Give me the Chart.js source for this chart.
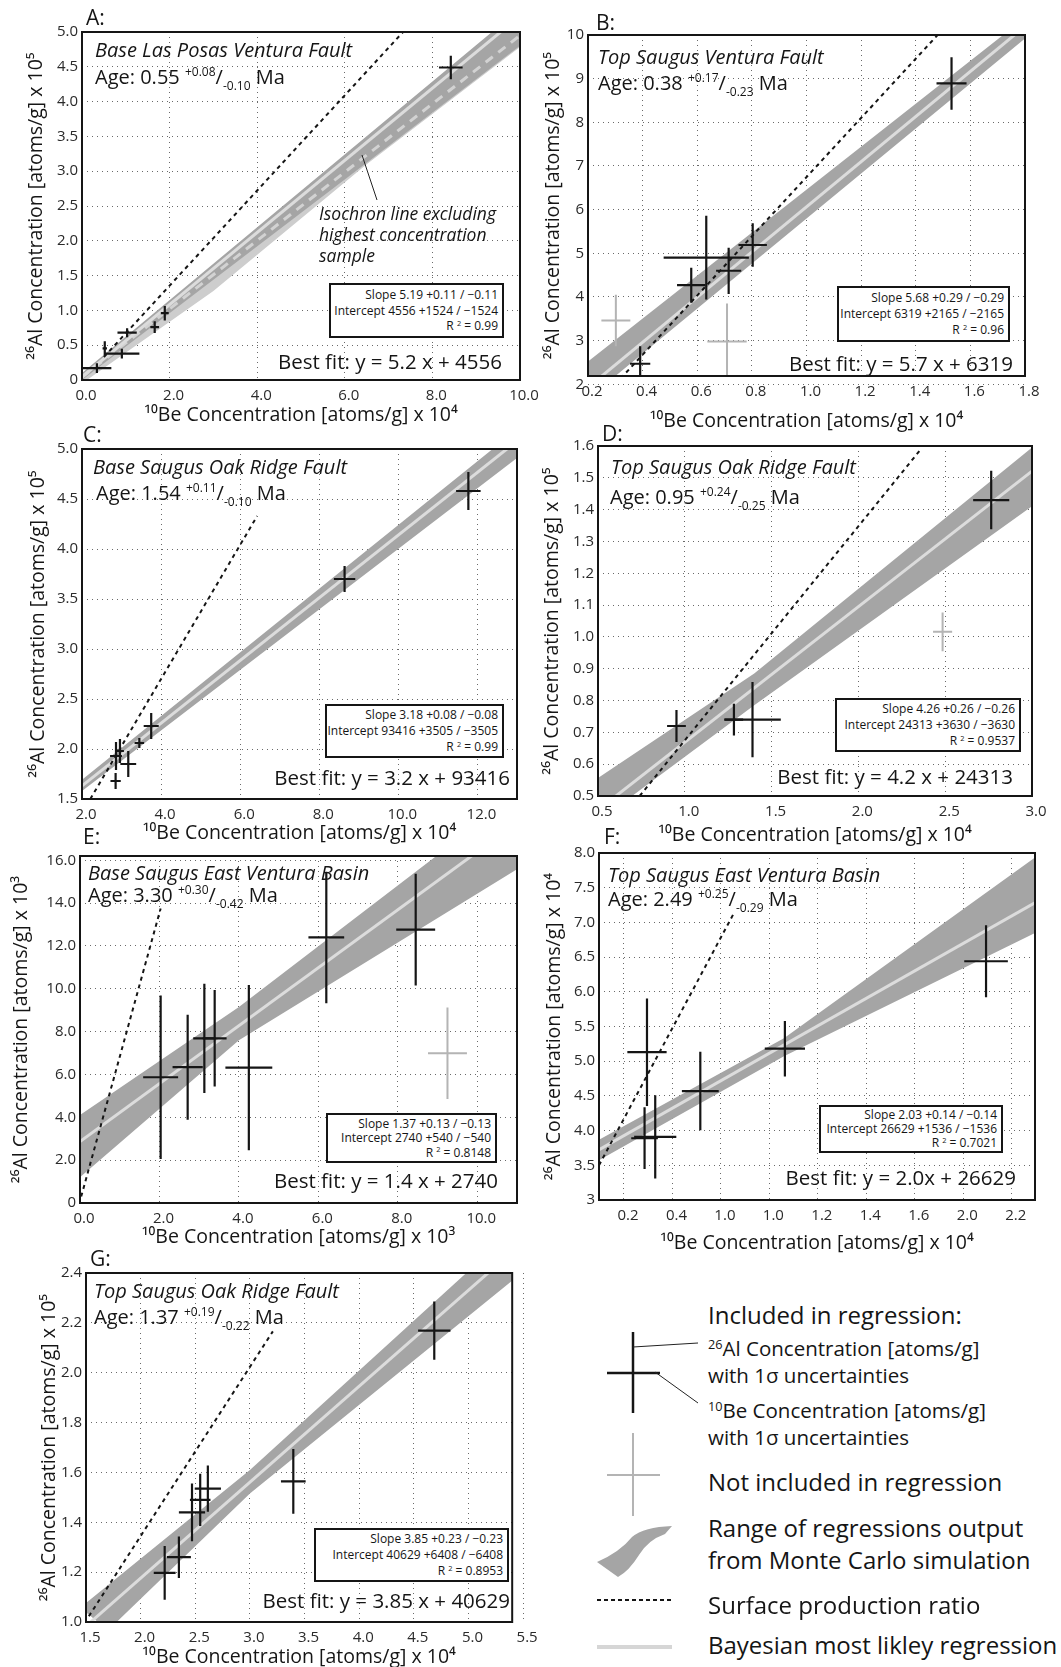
<!DOCTYPE html>
<html>
<head>
<meta charset="utf-8">
<title>26Al / 10Be isochron plots</title>
<script src="https://cdn.jsdelivr.net/npm/chart.js@4.4.1/dist/chart.umd.min.js"></script>
<style>
  html, body { margin: 0; padding: 0; background: #fff; }
  #page { position: relative; width: 1061px; height: 1667px; overflow: hidden; background: #fff;
          font-family: "Open Sans", "Noto Sans", "DejaVu Sans", sans-serif; color: #151515; }
  #page canvas { position: absolute; z-index: 1; }
  .t { position: absolute; z-index: 2; white-space: nowrap; line-height: 1; transform: translateY(-50%); }
  .it { font-style: italic; }
  .sup { font-size: 12px; position: relative; top: -8px; }
  .sub { font-size: 12px; position: relative; top: 6px; }
  .ssup { font-size: 0.62em; position: relative; top: -0.55em; }
  .box { position: absolute; z-index: 2; background: #fff; border: 2px solid #151515; box-sizing: border-box; }
  #marks { position: absolute; left: 0; top: 0; z-index: 3; }
</style>
</head>
<body>
<div id="page"></div>
<script>
// ---------------------------------------------------------------------
//  Data (x = 10Be, y = 26Al, in each panel's axis units)
// ---------------------------------------------------------------------

// A: Base Las Posas Ventura Fault
const A_be      = [0.34, 0.52, 0.91, 1.03, 1.66, 1.89, 8.42];
const A_al      = [0.17, 0.455, 0.38, 0.68, 0.76, 0.96, 4.49];
const A_beErr   = [0.33, 0.05, 0.40, 0.22, 0.10, 0.09, 0.27];
const A_alErr   = [0.07, 0.10, 0.07, 0.065, 0.085, 0.105, 0.17];
const A_band    = [[0, 0.1], [9.55, 5.1], [10.2, 5.1], [10.2, 4.9], [0, 0]];
const A_band2   = [[0, 0.04], [10.2, 5.05], [10.2, 4.88], [6.5, 3.1], [3, 1.28], [0, -0.05]];
const A_fit     = [[0, 0.046], [9.75, 5.1]];
const A_fit2    = [[0, 0.04], [10, 4.95]];
const A_ratio   = [[0.5, 0.33], [7.33, 5.0]];
const A_xTicks  = ['0.0', '2.0', '4.0', '6.0', '8.0', '10.0'];
const A_yTicks  = ['0', '0.5', '1.0', '1.5', '2.0', '2.5', '3.0', '3.5', '4.0', '4.5', '5.0'];

// B: Top Saugus Ventura Fault
const B_be      = [0.391, 0.578, 0.633, 0.715, 0.803, 1.531];
const B_al      = [2.47, 4.27, 4.90, 4.60, 5.19, 8.89];
const B_beErr   = [0.037, 0.052, 0.156, 0.046, 0.052, 0.055];
const B_alErr   = [0.40, 0.40, 0.96, 0.53, 0.50, 0.60];
const B_exBe    = [0.302, 0.709];
const B_exAl    = [3.46, 2.98];
const B_exBeErr = [0.053, 0.072];
const B_exAlErr = [0.59, 0.87];
const B_band    = [[0.1, 2.03], [1.85, 10.64], [1.85, 10.18], [0.25, 1.93]];
const B_fit     = [[0.21, 1.98], [1.8, 10.2]];
const B_ratio   = [[0.3, 2.0], [1.48, 10.0]];
const B_xTicks  = ['0.2', '0.4', '0.6', '0.8', '1.0', '1.2', '1.4', '1.6', '1.8'];
const B_yTicks  = ['2', '3', '4', '5', '6', '7', '8', '9', '10'];

// C: Base Saugus Oak Ridge Fault
const C_be      = [2.85, 2.86, 2.96, 3.17, 3.45, 3.75, 8.64, 11.77];
const C_al      = [1.68, 1.93, 1.98, 1.85, 2.06, 2.23, 3.70, 4.58];
const C_beErr   = [0.13, 0.15, 0.10, 0.20, 0.12, 0.19, 0.27, 0.31];
const C_alErr   = [0.08, 0.14, 0.12, 0.13, 0.05, 0.13, 0.13, 0.19];
const C_band    = [[1.9, 1.66], [13.2, 5.26], [13.2, 4.97], [1.9, 1.55]];
const C_fit     = [[1.9, 1.60], [13.0, 5.08]];
const C_ratio   = [[2.21, 1.5], [6.43, 4.33]];
const C_xTicks  = ['2.0', '4.0', '6.0', '8.0', '10.0', '12.0'];
const C_yTicks  = ['1.5', '2.0', '2.5', '3.0', '3.5', '4.0', '4.5', '5.0'];

// D: Top Saugus Oak Ridge Fault
const D_be      = [0.952, 1.283, 1.39, 2.765];
const D_al      = [0.72, 0.74, 0.74, 1.43];
const D_beErr   = [0.054, 0.053, 0.163, 0.104];
const D_alErr   = [0.05, 0.05, 0.118, 0.092];
const D_exBe    = [2.485];
const D_exAl    = [1.016];
const D_exBeErr = [0.055];
const D_exAlErr = [0.061];
const D_band    = [[0.4, 0.52], [1.4, 0.885], [3.1, 1.64], [3.1, 1.45], [1.4, 0.785], [0.4, 0.38]];
const D_fit     = [[0.5, 0.456], [3.0, 1.521]];
const D_ratio   = [[0.74, 0.5], [2.36, 1.59]];
const D_xTicks  = ['0.5', '1.0', '1.5', '2.0', '2.5', '3.0'];
const D_yTicks  = ['0.5', '0.6', '0.7', '0.8', '0.9', '1.0', '1.1', '1.2', '1.3', '1.4', '1.5', '1.6'];

// E: Base Saugus East Ventura Basin
const E_be      = [2.03, 2.71, 3.13, 3.39, 4.25, 6.20, 8.45];
const E_al      = [5.87, 6.34, 7.69, 7.69, 6.32, 12.40, 12.76];
const E_beErr   = [0.44, 0.38, 0.28, 0.30, 0.59, 0.45, 0.49];
const E_alErr   = [3.82, 2.45, 2.55, 2.25, 3.86, 3.07, 2.61];
const E_exBe    = [9.25];
const E_exAl    = [6.99];
const E_exBeErr = [0.49];
const E_exAlErr = [2.14];
const E_band    = [[-0.1, 3.98], [4, 9.15], [9.3, 16.67], [11.1, 16.67], [11.1, 15.7], [4, 7.6], [-0.1, 1.04]];
const E_fit     = [[0, 2.87], [10.1, 16.53]];
const E_ratio   = [[0.03, 0.3], [2.03, 13.75]];
const E_xTicks  = ['0.0', '2.0', '4.0', '6.0', '8.0', '10.0'];
const E_yTicks  = ['0', '2.0', '4.0', '6.0', '8.0', '10.0', '12.0', '14.0', '16.0'];

// F: Top Saugus East Ventura Basin (tick labels printed as in the original)
const F_be      = [0.285, 0.295, 0.329, 0.515, 0.864, 1.694];
const F_al      = [3.89, 5.13, 3.91, 4.57, 5.18, 6.44];
const F_beErr   = [0.055, 0.081, 0.087, 0.076, 0.083, 0.09];
const F_alErr   = [0.445, 0.774, 0.60, 0.565, 0.40, 0.52];
const F_band    = [[0.05, 3.78], [0.86, 5.33], [1.95, 8.07], [1.95, 6.94], [0.86, 5.07], [0.05, 3.48]];
const F_fit     = [[0.05, 3.63], [1.95, 7.39]];
const F_ratio   = [[0.097, 3.5], [0.65, 7.11]];
const F_xTickAt = [0.2, 0.4, 0.6, 0.8, 1.0, 1.2, 1.4, 1.6, 1.8];
const F_xTicks  = ['0.2', '0.4', '1.0', '1.0', '1.2', '1.4', '1.6', '2.0', '2.2'];
const F_yTicks  = ['3', '3.5', '4.0', '4.5', '5.0', '5.5', '6.0', '6.5', '7.0', '7.5', '8.0'];

// G: Top Saugus Oak Ridge Fault
const G_be      = [2.22, 2.35, 2.47, 2.545, 2.615, 3.397, 4.687];
const G_al      = [1.197, 1.26, 1.44, 1.49, 1.535, 1.564, 2.169];
const G_beErr   = [0.10, 0.11, 0.12, 0.094, 0.12, 0.113, 0.148];
const G_alErr   = [0.108, 0.083, 0.116, 0.105, 0.093, 0.13, 0.117];
const G_band    = [[1.45, 1.058], [3.0, 1.61], [5.1, 2.448], [5.6, 2.448], [5.6, 2.44], [3.0, 1.515], [1.7, 0.966]];
const G_fit     = [[1.45, 0.964], [5.2, 2.408]];
const G_ratio   = [[1.526, 1.023], [3.21, 2.166]];
const G_xTicks  = ['1.5', '2.0', '2.5', '3.0', '3.5', '4.0', '4.5', '5.0', '5.5'];
const G_yTicks  = ['1.0', '1.2', '1.4', '1.6', '1.8', '2.0', '2.2', '2.4'];

// ---------------------------------------------------------------------
//  Panel layout (page pixels) and text
// ---------------------------------------------------------------------
const FONT = '"Open Sans", "Noto Sans", "DejaVu Sans", sans-serif';
const BAND_GREY  = '#a5a5a5';
const LIGHT_GREY = '#dcdcdc';
const EXCL_GREY  = '#b4b4b4';

const AL_TITLE = p => '\u00b2\u2076Al Concentration [atoms/g] x 10' + p;
const BE_TITLE = p => '\u00b9\u2070Be Concentration [atoms/g] x 10' + p;

const panels = [
  { id: 'A', rect: [82, 32, 520, 380], x: [0, 10], y: [0, 5], xt: A_xTicks, yt: A_yTicks,
    yTitle: AL_TITLE('\u2075'), xTitle: BE_TITLE('\u2074'), yOff: 45, xOff: 35,
    inc: [A_be, A_al, A_beErr, A_alErr], band: A_band, band2: A_band2, fit: A_fit, fit2: A_fit2, ratio: A_ratio,
    label: [86, 17], title: ['Base Las Posas Ventura Fault', 95, 50], age: ['0.55', '+0.08', '-0.10', 95, 77],
    box: [329, 283, 504, 338], stats: ['Slope 5.19 +0.11 / \u22120.11', 'Intercept 4556 +1524 / \u22121524', 'R <span class="ssup">2</span> = 0.99'],
    best: ['Best fit: y = 5.2 x + 4556', 502, 361] },
  { id: 'B', rect: [588, 35, 1025, 376], x: [0.2, 1.8], y: [2.19, 10], xt: B_xTicks, yt: B_yTicks,
    yTitle: AL_TITLE('\u2075'), xTitle: BE_TITLE('\u2074'), yOff: 34, xOff: 45,
    inc: [B_be, B_al, B_beErr, B_alErr], exc: [B_exBe, B_exAl, B_exBeErr, B_exAlErr],
    band: B_band, fit: B_fit, ratio: B_ratio,
    label: [596, 22], title: ['Top Saugus Ventura Fault', 598, 57], age: ['0.38', '+0.17', '-0.23', 598, 83],
    box: [837, 286, 1010, 342], stats: ['Slope 5.68 +0.29 / \u22120.29', 'Intercept 6319 +2165 / \u22122165', 'R <span class="ssup">2</span> = 0.96'],
    best: ['Best fit: y = 5.7 x + 6319', 1013, 363] },
  { id: 'C', rect: [82, 449, 517, 799], x: [2, 13], y: [1.5, 5], xt: C_xTicks, yt: C_yTicks,
    yTitle: AL_TITLE('\u2075'), xTitle: BE_TITLE('\u2074'), yOff: 43, xOff: 34,
    inc: [C_be, C_al, C_beErr, C_alErr], band: C_band, fit: C_fit, ratio: C_ratio,
    label: [83, 434], title: ['Base Saugus Oak Ridge Fault', 93, 467], age: ['1.54', '+0.11', '-0.10', 96, 493],
    box: [325, 704, 504, 758], stats: ['Slope 3.18 +0.08 / \u22120.08', 'Intercept 93416 +3505 / \u22123505', 'R <span class="ssup">2</span> = 0.99'],
    best: ['Best fit: y = 3.2 x + 93416', 510, 777] },
  { id: 'D', rect: [598, 446, 1032, 796], x: [0.5, 3.0], y: [0.5, 1.6], xt: D_xTicks, yt: D_yTicks,
    yTitle: AL_TITLE('\u2075'), xTitle: BE_TITLE('\u2074'), yOff: 45, xOff: 39,
    inc: [D_be, D_al, D_beErr, D_alErr], exc: [D_exBe, D_exAl, D_exBeErr, D_exAlErr],
    band: D_band, fit: D_fit, ratio: D_ratio,
    label: [602, 433], title: ['Top Saugus Oak Ridge Fault', 611, 467], age: ['0.95', '+0.24', '-0.25', 610, 497],
    box: [835, 698, 1021, 752], stats: ['Slope 4.26 +0.26 / \u22120.26', 'Intercept 24313 +3630 / \u22123630', 'R <span class="ssup">2</span> = 0.9537'],
    best: ['Best fit: y = 4.2 x + 24313', 1013, 776] },
  { id: 'E', rect: [80, 856, 517, 1203], x: [0, 11], y: [0, 16.2], xt: E_xTicks, yt: E_yTicks,
    yTitle: AL_TITLE('\u00b3'), xTitle: BE_TITLE('\u00b3'), yOff: 58, xOff: 34,
    inc: [E_be, E_al, E_beErr, E_alErr], exc: [E_exBe, E_exAl, E_exBeErr, E_exAlErr],
    band: E_band, fit: E_fit, ratio: E_ratio,
    label: [83, 836], title: ['Base Saugus East Ventura Basin', 88, 873], age: ['3.30', '+0.30', '-0.42', 88, 895],
    box: [326, 1113, 497, 1163], stats: ['Slope 1.37 +0.13 / \u22120.13', 'Intercept 2740 +540 / \u2212540', 'R <span class="ssup">2</span> = 0.8148'],
    best: ['Best fit: y = 1.4 x + 2740', 498, 1180] },
  { id: 'F', rect: [599, 853, 1035, 1200], x: [0.097, 1.896], y: [3, 8], xt: F_xTicks, xAt: F_xTickAt, yt: F_yTicks,
    yTitle: AL_TITLE('\u2074'), xTitle: BE_TITLE('\u2074'), yOff: 44, xOff: 43,
    inc: [F_be, F_al, F_beErr, F_alErr], band: F_band, fit: F_fit, ratio: F_ratio,
    label: [604, 836], title: ['Top Saugus East Ventura Basin', 608, 875], age: ['2.49', '+0.25', '-0.29', 608, 899],
    box: [819, 1105, 1003, 1153], stats: ['Slope 2.03 +0.14 / \u22120.14', 'Intercept 26629 +1536 / \u22121536', 'R <span class="ssup">2</span> = 0.7021'],
    best: ['Best fit: y = 2.0x + 26629', 1016, 1177] },
  { id: 'G', rect: [86, 1273, 514, 1622], x: [1.5, 5.4], y: [1.0, 2.4], xt: G_xTicks, yt: G_yTicks,
    yTitle: AL_TITLE('\u2075'), xTitle: BE_TITLE('\u2074'), yOff: 36, xOff: 35,
    inc: [G_be, G_al, G_beErr, G_alErr], band: G_band, fit: G_fit, ratio: G_ratio,
    label: [90, 1258], title: ['Top Saugus Oak Ridge Fault', 94, 1291], age: ['1.37', '+0.19', '-0.22', 94, 1317],
    box: [314, 1528, 509, 1582], stats: ['Slope 3.85 +0.23 / \u22120.23', 'Intercept 40629 +6408 / \u22126408', 'R <span class="ssup">2</span> = 0.8953'],
    best: ['Best fit: y = 3.85 x + 40629', 510, 1600] }
];

const page = document.getElementById('page');

function addText(html, x, yc, size, opts) {
  opts = opts || {};
  const d = document.createElement('div');
  d.className = 't' + (opts.italic ? ' it' : '');
  d.innerHTML = html;
  d.style.fontSize = size + 'px';
  d.style.top = yc + 'px';
  if (opts.right) d.style.right = (1061 - x) + 'px';
  else d.style.left = x + 'px';
  page.appendChild(d);
  return d;
}

const pts = arr => arr.map(function (p) { return { x: p[0], y: p[1] }; });

// error-bar crosses, drawn through the chart's own scales
function crossPlugin(sets) {
  return {
    id: 'crosses',
    afterDatasetsDraw(chart) {
      const ctx = chart.ctx, xs = chart.scales.x, ys = chart.scales.y, a = chart.chartArea;
      ctx.save();
      ctx.beginPath();
      ctx.rect(a.left, a.top, a.right - a.left, a.bottom - a.top);
      ctx.clip();
      sets.forEach(function (s) {
        const bx = s.data[0], ay = s.data[1], bxe = s.data[2], aye = s.data[3];
        ctx.strokeStyle = s.color;
        ctx.lineWidth = s.width;
        for (let i = 0; i < bx.length; i++) {
          const px = xs.getPixelForValue(bx[i]);
          const py = ys.getPixelForValue(ay[i]);
          ctx.beginPath();
          ctx.moveTo(xs.getPixelForValue(bx[i] - bxe[i]), py);
          ctx.lineTo(xs.getPixelForValue(bx[i] + bxe[i]), py);
          ctx.moveTo(px, ys.getPixelForValue(ay[i] - aye[i]));
          ctx.lineTo(px, ys.getPixelForValue(ay[i] + aye[i]));
          ctx.stroke();
        }
      });
      ctx.restore();
    },
    afterDraw(chart) {
      const ctx = chart.ctx, a = chart.chartArea;
      ctx.save();
      ctx.strokeStyle = '#151515';
      ctx.lineWidth = 2;
      ctx.strokeRect(a.left, a.top, a.right - a.left, a.bottom - a.top);
      ctx.restore();
    }
  };
}

function makePanel(p) {
  const L = p.rect[0], T = p.rect[1], R = p.rect[2], B = p.rect[3];
  const titleSize = 19.5, lh = titleSize * 1.2;
  const yw = Math.round(p.yOff + lh / 2 + 2);
  const xh = Math.round(p.xOff + lh / 2 + 2);
  const padT = 14, padR = 26;
  const cw = yw + (R - L) + padR, ch = padT + (B - T) + xh;

  const canvas = document.createElement('canvas');
  canvas.width = cw; canvas.height = ch;
  canvas.style.width = cw + 'px'; canvas.style.height = ch + 'px';
  canvas.style.left = (L - yw) + 'px'; canvas.style.top = (T - padT) + 'px';
  page.appendChild(canvas);

  const datasets = [
    { data: pts(p.ratio), borderColor: '#151515', borderWidth: 2, borderDash: [4, 4], pointRadius: 0, fill: false },
    { data: pts(p.fit), borderColor: LIGHT_GREY, borderWidth: 3, pointRadius: 0, fill: false }
  ];
  if (p.fit2) datasets.push({ data: pts(p.fit2), borderColor: '#d2d2d2', borderWidth: 3, borderDash: [9, 7], pointRadius: 0, fill: false });
  datasets.push({ data: pts(p.band), borderColor: 'rgba(0,0,0,0)', borderWidth: 0, backgroundColor: BAND_GREY, fill: 'shape', pointRadius: 0 });
  if (p.band2) datasets.push({ data: pts(p.band2), borderColor: 'rgba(0,0,0,0)', borderWidth: 0, backgroundColor: '#cdcdcd', fill: 'shape', pointRadius: 0 });

  const xAt = p.xAt || p.xt.map(Number);
  const yAt = p.yt.map(Number);
  const tickFont = { family: FONT, size: 15 };
  const titleFont = { family: FONT, size: titleSize };
  const gridOpts = { color: '#6a6a6a', lineWidth: 1, drawTicks: false };
  const borderOpts = { display: false, dash: [1, 4] };

  const sets = [{ data: p.inc, color: '#151515', width: 2.2 }];
  if (p.exc) sets.unshift({ data: p.exc, color: EXCL_GREY, width: 2 });

  new Chart(canvas, {
    type: 'line',
    data: { datasets: datasets },
    plugins: [crossPlugin(sets)],
    options: {
      responsive: false,
      animation: false,
      devicePixelRatio: 1,
      layout: { padding: { top: padT, right: padR, left: 0, bottom: 0 } },
      elements: { line: { tension: 0 } },
      plugins: { legend: { display: false }, tooltip: { enabled: false } },
      scales: {
        x: {
          type: 'linear', min: p.x[0], max: p.x[1],
          afterBuildTicks: function (s) { s.ticks = xAt.map(function (v) { return { value: v }; }); },
          afterFit: function (s) { s.height = xh; },
          ticks: { autoSkip: false, maxRotation: 0, minRotation: 0, padding: 7, labelOffset: 4, color: '#2a2a2a', font: tickFont,
                   callback: function (v, i) { return p.xt[i]; } },
          grid: gridOpts, border: borderOpts,
          title: { display: true, text: p.xTitle, color: '#151515', font: titleFont, padding: { top: 0, bottom: 2 } }
        },
        y: {
          type: 'linear', min: p.y[0], max: p.y[1],
          afterBuildTicks: function (s) { s.ticks = yAt.map(function (v) { return { value: v }; }); },
          afterFit: function (s) { s.width = yw; },
          ticks: { autoSkip: false, padding: 4, color: '#2a2a2a', font: tickFont,
                   callback: function (v, i) { return p.yt[i]; } },
          grid: gridOpts, border: borderOpts,
          title: { display: true, text: p.yTitle, color: '#151515', font: titleFont, padding: { top: 2, bottom: 0 } }
        }
      }
    }
  });

  // panel annotations
  addText(p.id + ':', p.label[0], p.label[1], 21);
  addText(p.title[0], p.title[1], p.title[2], 20, { italic: true });
  addText('Age: ' + p.age[0] + ' <span class="sup">' + p.age[1] + '</span>/<span class="sub">' + p.age[2] + '</span> Ma',
          p.age[3], p.age[4], 20);
  const bx = document.createElement('div');
  bx.className = 'box';
  bx.style.left = p.box[0] + 'px'; bx.style.top = p.box[1] + 'px';
  bx.style.width = (p.box[2] - p.box[0]) + 'px'; bx.style.height = (p.box[3] - p.box[1]) + 'px';
  page.appendChild(bx);
  const bh = p.box[3] - p.box[1];
  [0.21, 0.5, 0.79].forEach(function (f, i) {
    addText(p.stats[i], p.box[2] - 6, p.box[1] + bh * f, 12, { right: true });
  });
  addText(p.best[0], p.best[1], p.best[2], 20.5, { right: true });
}

panels.forEach(makePanel);

// note in panel A
addText('Isochron line excluding', 319, 214, 17.5, { italic: true });
addText('highest concentration', 319, 235, 17.5, { italic: true });
addText('sample', 319, 256, 17.5, { italic: true });

// ---------------------------------------------------------------------
//  Legend (bottom right)
// ---------------------------------------------------------------------
addText('Included in regression:', 708, 1315, 24);
addText('<span class="ssup">26</span>Al Concentration [atoms/g]', 708, 1348, 20.5);
addText('with 1\u03c3 uncertainties', 708, 1375, 20.5);
addText('<span class="ssup">10</span>Be Concentration [atoms/g]', 708, 1410, 20.5);
addText('with 1\u03c3 uncertainties', 708, 1437, 20.5);
addText('Not included in regression', 708, 1482, 24);
addText('Range of regressions output', 708, 1528, 24);
addText('from Monte Carlo simulation', 708, 1560, 24);
addText('Surface production ratio', 708, 1605, 24);
addText('Bayesian most likley regression', 708, 1645, 24);

const NS = 'http://www.w3.org/2000/svg';
const svg = document.createElementNS(NS, 'svg');
svg.setAttribute('id', 'marks');
svg.setAttribute('width', '1061');
svg.setAttribute('height', '1667');
function svgEl(tag, attrs) {
  const e = document.createElementNS(NS, tag);
  Object.keys(attrs).forEach(function (k) { e.setAttribute(k, attrs[k]); });
  svg.appendChild(e);
  return e;
}
// leader line of the panel A note
svgEl('line', { x1: 377, y1: 200, x2: 362, y2: 155, stroke: '#222', 'stroke-width': 1 });
// legend symbols
svgEl('line', { x1: 633, y1: 1332, x2: 633, y2: 1413, stroke: '#151515', 'stroke-width': 2.5 });
svgEl('line', { x1: 607, y1: 1373, x2: 660, y2: 1373, stroke: '#151515', 'stroke-width': 2.5 });
svgEl('line', { x1: 633, y1: 1347, x2: 698, y2: 1343, stroke: '#222', 'stroke-width': 1 });
svgEl('line', { x1: 655, y1: 1372, x2: 698, y2: 1403, stroke: '#222', 'stroke-width': 1 });
svgEl('line', { x1: 633, y1: 1433, x2: 633, y2: 1516, stroke: EXCL_GREY, 'stroke-width': 2 });
svgEl('line', { x1: 607, y1: 1475, x2: 660, y2: 1475, stroke: EXCL_GREY, 'stroke-width': 2 });
svgEl('path', { d: 'M597,1562 Q620,1552 632,1537 Q644,1527 672,1526 L665,1534 Q648,1540 639,1555 Q629,1571 618,1577 Z', fill: BAND_GREY });
svgEl('line', { x1: 597, y1: 1600, x2: 672, y2: 1600, stroke: '#151515', 'stroke-width': 2, 'stroke-dasharray': '4 3' });
svgEl('line', { x1: 597, y1: 1647, x2: 672, y2: 1647, stroke: '#d6d6d6', 'stroke-width': 4 });
page.appendChild(svg);
</script>
</body>
</html>
